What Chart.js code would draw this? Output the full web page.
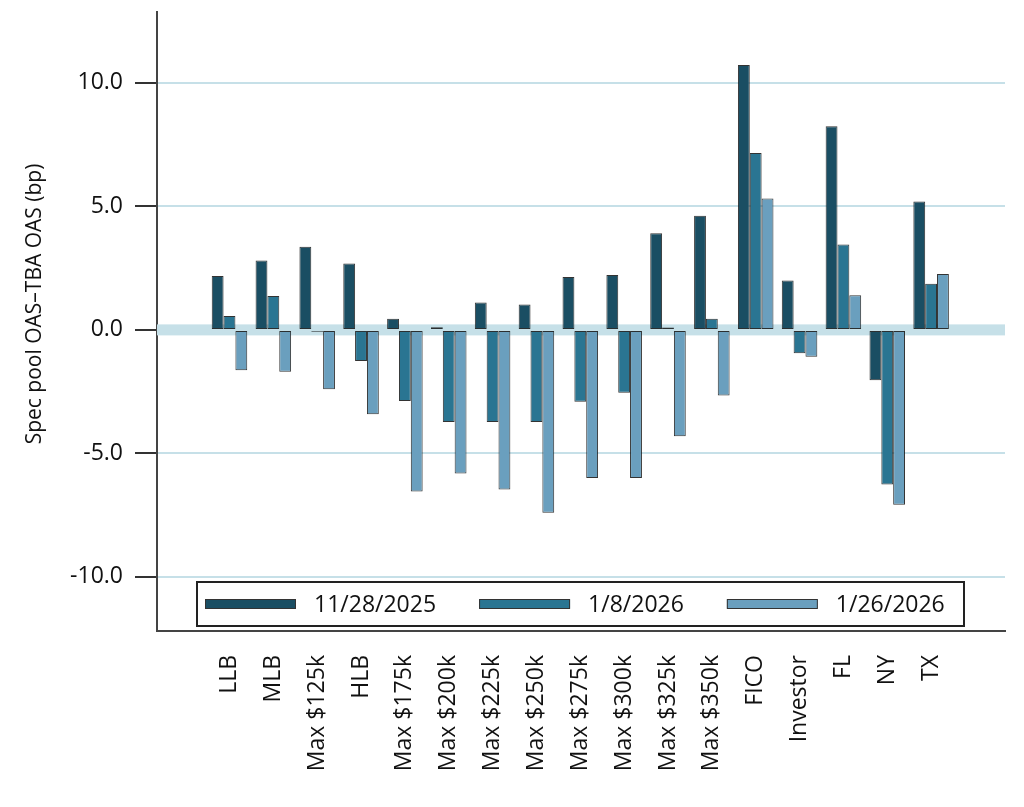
<!DOCTYPE html>
<html lang="en">
<head>
  <meta charset="UTF-8" />
  <title>Spec pool OAS vs TBA OAS</title>
  <script src="https://cdn.jsdelivr.net/npm/chart.js"></script>
  <style>
    body {
      margin: 0;
      background: #fff;
    }
    #chart {
      display: block;
    }
  </style>
</head>
<body>
  <canvas id="chart" width="1024" height="807"></canvas>

  <script>
    const categories = ['LLB', 'MLB', 'Max $125k', 'HLB', 'Max $175k', 'Max $200k', 'Max $225k',
      'Max $250k', 'Max $275k', 'Max $300k', 'Max $325k', 'Max $350k', 'FICO', 'Investor', 'FL', 'NY', 'TX'];

    const seriesNames = ['11/28/2025', '1/8/2026', '1/26/2026'];

    const nov28 = [2.18, 2.81, 3.37, 2.69, 0.45, 0.11, 1.11, 1.03, 2.14, 2.22, 3.91, 4.62, 10.72, 2.00, 8.24, -2.04, 5.20];
    const jan8  = [0.56, 1.37, -0.08, -1.26, -2.88, -3.73, -3.73, -3.73, -2.91, -2.54, 0.10, 0.45, 7.16, -0.95, 3.46, -6.26, 1.87];
    const jan26 = [-1.63, -1.69, -2.40, -3.41, -6.54, -5.81, -6.46, -7.40, -6.00, -6.00, -4.31, -2.66, 5.32, -1.09, 1.40, -7.08, 2.26];

    const yTicks = [-10, -5, 0, 5, 10];
    const yTitle = 'Spec pool OAS–TBA OAS (bp)';

    const colors = ['#1a4e63', '#2a7592', '#6a9fbe'];
    const gridColor = '#c6e0e8';
    const font = "'Open Sans', sans-serif";

    function toPoints(values) {
      return values.map((v, i) => ({ x: i, y: v }));
    }

    // thick band along zero, under the bars
    const zeroBand = {
      id: 'zeroBand',
      beforeDatasetsDraw(chart) {
        const { ctx, chartArea: a, scales } = chart;
        const y = scales.y.getPixelForValue(0);
        ctx.save();
        ctx.fillStyle = gridColor;
        ctx.fillRect(a.left, y - 5.5, a.right - a.left, 11);
        ctx.restore();
      }
    };

    // y title sits a little above the middle of the axis in the original
    const sideTitle = {
      id: 'sideTitle',
      afterDraw(chart) {
        const { ctx, chartArea: a } = chart;
        ctx.save();
        ctx.translate(35, a.top + 292);
        ctx.rotate(-Math.PI / 2);
        ctx.font = '21px ' + font;
        ctx.fillStyle = '#111';
        ctx.textAlign = 'center';
        ctx.textBaseline = 'middle';
        ctx.fillText(yTitle, 0, 0);
        ctx.restore();
      }
    };

    // legend sits inside the plot, just above the x axis
    const insideLegend = {
      id: 'insideLegend',
      afterDraw(chart) {
        const { ctx, chartArea: a } = chart;
        const x0 = a.left + 40, x1 = a.right - 41;
        const y0 = a.bottom - 49, y1 = a.bottom - 5;
        const mid = (y0 + y1) / 2;
        ctx.save();
        ctx.fillStyle = '#fff';
        ctx.fillRect(x0, y0, x1 - x0, y1 - y0);
        ctx.strokeStyle = '#222';
        ctx.lineWidth = 2;
        ctx.strokeRect(x0, y0, x1 - x0, y1 - y0);
        ctx.font = '23px ' + font;
        ctx.textBaseline = 'middle';
        let x = x0 + 8;
        chart.data.datasets.forEach(ds => {
          ctx.fillStyle = ds.backgroundColor;
          ctx.fillRect(x, mid - 4.5, 91, 9);
          ctx.strokeStyle = '#333';
          ctx.lineWidth = 1;
          ctx.strokeRect(x + 0.5, mid - 4.5, 90, 9);
          ctx.fillStyle = '#111';
          ctx.fillText(ds.label, x + 109, mid + 1);
          x += 109 + ctx.measureText(ds.label).width + 43;
        });
        ctx.restore();
      }
    };

    new Chart(document.getElementById('chart'), {
      type: 'bar',
      data: {
        datasets: [nov28, jan8, jan26].map((vals, k) => ({
          label: seriesNames[k],
          data: toPoints(vals),
          backgroundColor: colors[k],
          borderColor: 'rgba(15, 15, 15, 0.85)',
          borderWidth: 1,
          borderSkipped: false,
          categoryPercentage: 0.81,
          barPercentage: 1.0
        }))
      },
      options: {
        responsive: false,
        animation: false,
        devicePixelRatio: 1,
        layout: { padding: { top: 12, right: 19, left: 0, bottom: 0 } },
        plugins: {
          legend: { display: false },
          tooltip: { enabled: false }
        },
        scales: {
          x: {
            type: 'linear',
            offset: false,
            min: -1.653,
            max: 17.685,
            afterBuildTicks: s => { s.ticks = categories.map((_, i) => ({ value: i })); },
            afterFit: s => {
              s.height = 176;
              s.paddingLeft = 0;
              s.paddingRight = 0;
            },
            grid: { display: false },
            border: { display: true, color: '#444', width: 2 },
            ticks: {
              autoSkip: false,
              maxRotation: 90,
              minRotation: 90,
              padding: 16,
              color: '#111',
              font: { family: font, size: 23 },
              callback: v => categories[v] ?? ''
            }
          },
          y: {
            min: -12.19,
            max: 12.87,
            afterBuildTicks: s => { s.ticks = yTicks.map(v => ({ value: v })); },
            afterFit: s => {
              s.width = 157;
              s.paddingTop = 0;
              s.paddingBottom = 0;
            },
            grid: {
              color: c => (c.tick && c.tick.value === 0 ? 'rgba(0,0,0,0)' : gridColor),
              lineWidth: 2,
              tickColor: '#333',
              tickWidth: 2,
              tickLength: 22
            },
            border: { display: true, color: '#444', width: 2 },
            ticks: {
              padding: 12,
              color: '#111',
              font: { family: font, size: 23, lineHeight: 1 },
              callback: v => v.toFixed(1)
            }
          }
        }
      },
      plugins: [zeroBand, insideLegend, sideTitle]
    });
  </script>
</body>
</html>
